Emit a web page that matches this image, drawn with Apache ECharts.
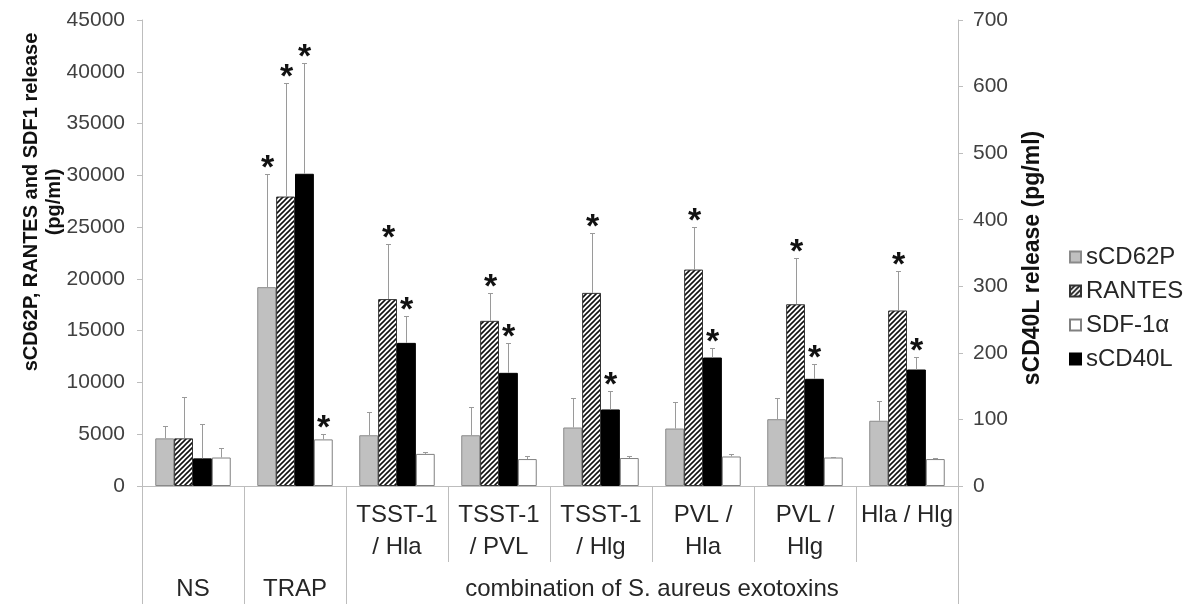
<!DOCTYPE html>
<html><head><meta charset="utf-8">
<script src="https://cdn.jsdelivr.net/npm/echarts@6/dist/echarts.min.js"></script>
<style>html,body{margin:0;padding:0;background:#fff}#c{width:1199px;height:612px}</style>
</head><body><div id="c"></div>
<script>
// ---- data ----
const categories = ['NS', 'TRAP', 'TSST-1\n/ Hla', 'TSST-1\n/ PVL', 'TSST-1\n/ Hlg', 'PVL /\nHla', 'PVL /\nHlg', 'Hla / Hlg'];
const groupLabels = ['NS', 'TRAP', 'combination of S. aureus exotoxins'];
const groupSizes = [1, 1, 6];

const sCD62P     = [4600, 19200, 4900, 4900, 5650, 5550, 6450, 6300];
const sCD62P_err = [1220, 10930, 2220, 2760, 2820, 2590, 2080, 1910];
const sCD62P_sig = [0, 1, 0, 0, 0, 0, 0, 0];

const RANTES     = [4600, 27950, 18050, 15950, 18650, 20900, 17550, 16950];
const RANTES_err = [3970, 10950, 5300, 2700, 5750, 4150, 4450, 3850];
const RANTES_sig = [0, 1, 1, 1, 1, 1, 1, 1];

const SDF1a     = [2750, 4500, 3100, 2600, 2700, 2850, 2750, 2600];
const SDF1a_err = [890, 520, 150, 300, 200, 210, 80, 100];
const SDF1a_sig = [0, 1, 0, 0, 0, 0, 0, 0];

const sCD40L     = [41.5, 469, 215, 170, 115, 193, 161, 175];   // right axis
const sCD40L_err = [51.5, 167, 40, 45, 28, 15, 22, 19];
const sCD40L_sig = [0, 1, 1, 1, 1, 1, 1, 1];

const leftAxisMax = 45000, leftAxisStep = 5000;
const rightAxisMax = 700, rightAxisStep = 100;
const leftTitle = 'sCD62P, RANTES and SDF1 release\n(pg/ml)';
const rightTitle = 'sCD40L release (pg/ml)';

// ---- styles ----
const FONT = 'Liberation Sans, Arial, sans-serif';
const AX = '#bdbdbd';
const CAT_GAP = 0.26;

function hatch() {
  const s = 5, c = document.createElement('canvas');
  c.width = s; c.height = s;
  const g = c.getContext('2d');
  g.fillStyle = '#fff'; g.fillRect(0, 0, s, s);
  g.strokeStyle = '#111'; g.lineWidth = 1.6;
  g.beginPath();
  g.moveTo(0, s); g.lineTo(s, 0);
  g.moveTo(-1, 1); g.lineTo(1, -1);
  g.moveTo(s - 1, s + 1); g.lineTo(s + 1, s - 1);
  g.stroke();
  return c;
}

// group label positions derived from group sizes
const groupCenters = [];
(function(){ let acc = 0; groupSizes.forEach(n => { groupCenters.push(acc + n / 2); acc += n; }); })();
const groupBounds = (function(){ const b = [0]; let acc = 0; groupSizes.forEach(n => { acc += n; b.push(acc); }); return b; })();
const singleCats = (function(){ const s = new Set(); let acc = 0; groupSizes.forEach(n => { if (n === 1) s.add(acc); acc += n; }); return s; })();

const barDefs = [
  { name: 'sCD62P', v: sCD62P, e: sCD62P_err, s: sCD62P_sig, y: 0,
    style: { color: '#c0c0c0', borderColor: '#8a8a8a', borderWidth: 1 } },
  { name: 'RANTES', v: RANTES, e: RANTES_err, s: RANTES_sig, y: 0,
    style: { color: { image: hatch(), repeat: 'repeat' }, borderColor: '#333', borderWidth: 1 } },
  { name: 'sCD40L', v: sCD40L, e: sCD40L_err, s: sCD40L_sig, y: 1,
    style: { color: '#000', borderColor: '#000', borderWidth: 1 } },
  { name: 'SDF-1α', v: SDF1a, e: SDF1a_err, s: SDF1a_sig, y: 0,
    style: { color: '#fff', borderColor: '#808080', borderWidth: 1 } }
];

const series = [];
barDefs.forEach((d, slot) => {
  series.push({
    name: d.name, type: 'bar', xAxisIndex: 0, yAxisIndex: d.y,
    data: d.v, barGap: '0%', barCategoryGap: (CAT_GAP * 100) + '%',
    itemStyle: d.style, emphasis: { disabled: true }, animation: false
  });
});
barDefs.forEach((d, slot) => {
  series.push({
    type: 'custom', xAxisIndex: 0, yAxisIndex: d.y, silent: true, animation: false, z: 5,
    data: d.v.map((v, i) => [i, v, d.e[i], d.s[i]]),
    renderItem: function (params, api) {
      const i = api.value(0), v = api.value(1), e = api.value(2), sig = api.value(3);
      const base = api.coord([i, v]);
      const top = api.coord([i, v + e]);
      const band = api.size([1, 0])[0];
      const bw = band * (1 - CAT_GAP) / 4;
      const x = Math.round(base[0] + (slot - 1.5) * bw) + 0.5;
      const ty = Math.round(top[1]) + 0.5;
      const ch = [
        { type: 'line', shape: { x1: x, y1: base[1], x2: x, y2: ty }, style: { stroke: '#9a9a9a', lineWidth: 1 } },
        { type: 'line', shape: { x1: x - 2.5, y1: ty, x2: x + 2.5, y2: ty }, style: { stroke: '#9a9a9a', lineWidth: 1 } }
      ];
      if (sig) {
        ch.push({ type: 'text', style: { text: '*', x: x, y: ty - 6, textAlign: 'center', textVerticalAlign: 'middle',
          font: 'bold 34px ' + FONT, fill: '#111' } });
      }
      return { type: 'group', children: ch };
    }
  });
});

const plainNum = function (v) { return String(v); };

const chart = echarts.init(document.getElementById('c'), null, { renderer: 'canvas' });
chart.setOption({
  backgroundColor: '#fff',
  animation: false,
  textStyle: { fontFamily: FONT },
  grid: { left: 142, right: 241, top: 20, bottom: 126, containLabel: false },
  legend: {
    data: ['sCD62P', 'RANTES', 'SDF-1α', 'sCD40L'],
    orient: 'vertical', left: 1064, top: 240,
    itemWidth: 11, itemHeight: 11, itemGap: 10, icon: 'rect',
    textStyle: { fontSize: 24, color: '#262626', fontFamily: FONT, lineHeight: 24 },
    selectedMode: false
  },
  xAxis: [
    {
      type: 'category', data: categories, position: 'bottom',
      axisLine: { show: true, lineStyle: { color: AX, width: 1 } },
      axisTick: { show: true, interval: 0, length: 76, lineStyle: { color: AX } },
      axisLabel: {
        interval: 0, margin: 13, fontSize: 24, lineHeight: 32, color: '#262626', fontFamily: FONT,
        formatter: function (val, idx) { return singleCats.has(idx) ? '' : val; }
      },
      splitLine: { show: false }
    },
    {
      type: 'value', min: 0, max: categories.length, position: 'bottom',
      axisLine: { show: false },
      axisTick: { show: true, customValues: [groupBounds[0], groupBounds[1], groupBounds[2], groupBounds[groupBounds.length - 1]],
        length: 118, lineStyle: { color: AX } },
      axisLabel: {
        customValues: groupCenters, margin: 91, fontSize: 24, color: '#262626', fontFamily: FONT,
        formatter: function (val) {
          const k = groupCenters.indexOf(val);
          return k >= 0 ? groupLabels[k] : '';
        }
      },
      splitLine: { show: false }
    }
  ],
  yAxis: [
    {
      type: 'value', min: 0, max: leftAxisMax, interval: leftAxisStep, position: 'left',
      axisLine: { show: true, lineStyle: { color: AX } },
      axisTick: { show: true, length: 5, lineStyle: { color: AX } },
      axisLabel: { fontSize: 21, color: '#404040', margin: 17, fontFamily: FONT, formatter: plainNum },
      splitLine: { show: false }
    },
    {
      type: 'value', min: 0, max: rightAxisMax, interval: rightAxisStep, position: 'right',
      axisLine: { show: true, lineStyle: { color: AX } },
      axisTick: { show: true, length: 5, lineStyle: { color: AX } },
      axisLabel: { fontSize: 21, color: '#404040', margin: 15, fontFamily: FONT, formatter: plainNum },
      splitLine: { show: false }
    }
  ],
  graphic: [
    { type: 'text', x: 43, y: 202, rotation: Math.PI / 2,
      style: { text: leftTitle, font: 'bold 20px ' + FONT, lineHeight: 23, textAlign: 'center', textVerticalAlign: 'middle', fill: '#111' } },
    { type: 'text', x: 1033, y: 258, rotation: Math.PI / 2,
      style: { text: rightTitle, font: 'bold 23px ' + FONT, textAlign: 'center', textVerticalAlign: 'middle', fill: '#111' } }
  ],
  series: series
});
</script>
</body></html>
